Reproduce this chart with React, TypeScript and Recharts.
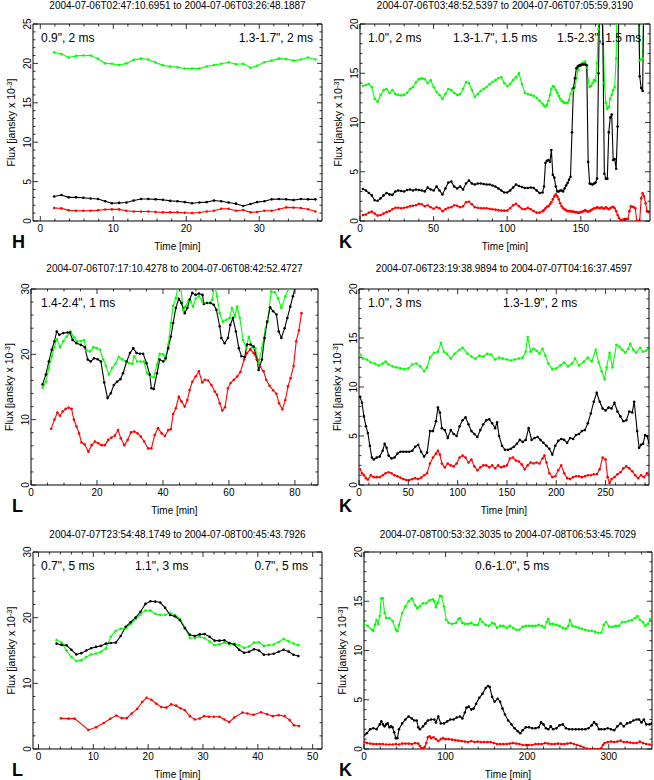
import React from 'react';
import { LineChart, Line, XAxis, YAxis, ReferenceArea } from 'recharts';

const FONT = '"Liberation Sans", Arial, Helvetica, sans-serif';
const GREEN = '#00ff00';
const BLACK = '#000000';
const RED = '#ff0000';

// ---------- Panel 1 (H) ----------
const p1T = [1.9,2.9,3.9,4.9,5.9,6.9,7.9,8.9,9.8,10.8,11.8,12.8,13.8,14.8,15.8,16.8,17.8,18.8,19.8,20.8,21.8,22.8,23.8,24.8,25.8,26.8,27.8,28.8,29.7,30.7,31.7,32.7,33.7,34.7,35.7,36.7,37.7];
const p1Green = [21.4,21.2,20.75,20.95,21.0,21.0,20.6,20.0,19.95,19.8,20.0,20.45,20.6,20.5,20.1,19.75,19.6,19.5,19.35,19.35,19.35,19.6,19.8,19.95,20.15,19.9,19.95,19.45,19.7,20.15,20.35,20.6,20.55,20.35,20.5,20.75,20.5];
const p1Black = [3.1,3.3,3.0,3.0,2.95,2.85,2.8,2.5,2.25,2.3,2.35,2.6,2.8,2.8,2.75,2.7,2.55,2.5,2.4,2.25,2.35,2.4,2.6,2.5,2.35,2.2,1.9,2.15,2.4,2.5,2.75,2.8,2.75,2.65,2.8,2.75,2.75];
const p1Red = [1.65,1.6,1.35,1.3,1.3,1.3,1.35,1.45,1.47,1.47,1.3,1.2,1.2,1.2,1.15,1.1,1.1,1.1,1.05,1.0,1.07,1.2,1.3,1.55,1.55,1.3,1.4,1.1,1.15,1.3,1.3,1.5,1.73,1.7,1.65,1.5,1.2];

// ---------- Panel 2 (K) ----------
const p2T = [2,4,6,8,10,12,14,16,18,20,22,24,26,28,30,32,34,36,38,40,42,44,46,48,50,52,54,56,58,60,62,64,66,68,70,72,74,76,78,80,82,84,86,88,90,92,94,96,98,100,102,104,106,108,110,112,114,116,118,120,122,124,
  125,126,127,128,129,130,131,132,133,134,135,136,137,138,139,140,141,142,143,144,145,146,147,148,149,150,151,152,153,154,155,156,157,158,159,160,161,162,163,164,165,166,167,168,169,170,171,172,173,174,175,176,177,178,179,180,181,182,183,184,185,186,187,188,189,190,191,192,193,194,195,196];
const p2Green = [13.7,13.8,13.9,13.6,12.4,12.1,12.8,13.3,13.4,13.0,13.3,12.9,12.8,12.75,12.8,13.0,13.4,13.6,14.1,14.4,14.5,14.4,14.0,14.3,13.6,13.1,12.8,12.4,12.9,13.4,13.3,13.0,12.8,12.9,13.4,14.1,14.0,13.3,12.6,12.9,13.2,13.4,13.6,13.9,14.1,14.3,14.5,14.6,14.0,13.7,13.9,14.3,14.6,15.0,13.9,13.0,12.9,12.8,12.7,12.5,12.2,11.9,
  11.7,11.6,11.8,12.2,12.8,13.4,13.7,13.6,13.3,13.0,
  12.7,12.4,12.2,12.1,12.0,11.95,12.0,12.3,12.9,13.4,
  13.3,13.6,14.5,15.3,15.7,15.9,16.0,16.1,16.2,15.6,
  14.3,13.6,13.7,14.0,14.3,14.2,16.0,19.5,24,24,
  20.5,14.0,12.0,11.4,11.6,12.4,12.8,13.3,13.6,16.5,
  25,null,null,null,null,null,null,null,null,null,
  null,null,null,null,25,16.3,16.4,16.5,25,null,
  null,null];
const p2Black = [3.25,3.1,2.85,2.6,2.1,2.05,2.3,2.6,2.85,2.7,2.65,3.0,3.1,3.05,3.0,3.15,3.2,3.1,3.2,3.15,3.1,3.0,3.4,3.2,3.1,3.5,3.1,2.7,3.3,3.9,4.0,3.5,3.3,3.5,3.2,3.8,4.1,3.8,3.7,3.8,3.8,3.75,3.7,3.7,3.6,3.5,3.3,3.1,2.9,2.9,3.1,3.4,3.7,3.55,3.45,3.35,3.35,3.4,3.35,3.1,2.85,2.9,
  3.5,5.9,6.1,6.2,6.0,7.2,4.7,4.4,3.5,3.0,
  3.0,3.1,3.1,3.0,3.3,3.6,3.85,4.2,4.5,9.0,
  13.5,14.5,15.5,15.7,15.8,15.8,15.9,15.9,15.9,15.8,
  6.0,3.8,3.75,3.7,3.8,3.9,4.3,15.0,24,24,
  18,4.8,4.3,4.3,9.0,10.5,10.8,6.2,6.3,5.3,
  9.6,25,null,null,null,null,null,null,null,null,
  null,null,null,null,25,14.7,13.5,13.2,25,null,
  null,null];
const p2Red = [0.6,0.65,0.85,0.95,0.75,0.55,0.6,0.75,0.9,1.0,1.2,1.35,1.35,1.3,1.35,1.4,1.5,1.55,1.6,1.75,1.7,1.5,1.6,1.4,1.25,1.4,1.3,1.0,1.2,1.35,1.4,1.6,1.55,1.4,1.5,1.9,1.95,1.7,1.4,1.35,1.3,1.3,1.3,1.25,1.2,1.15,1.1,1.05,1.05,1.05,1.3,1.6,1.75,1.5,1.25,1.2,1.35,1.2,1.0,0.85,0.85,1.0,
  1.1,1.3,1.45,1.5,1.7,1.9,2.2,2.5,2.7,2.5,
  2.2,1.8,1.5,1.3,1.2,1.1,1.0,1.0,1.0,0.95,
  0.95,0.9,0.9,0.85,0.85,0.9,0.95,1.0,1.1,1.0,
  0.95,1.0,1.1,1.2,1.3,1.3,1.4,1.35,1.3,1.4,
  1.3,1.25,1.4,1.3,1.2,1.3,1.4,1.45,1.3,1.0,
  0.6,0.3,0.1,0.1,0.15,0.2,0.2,0.2,1.0,1.5,
  1.45,1.4,1.3,0.0,0.0,0.0,2.3,2.8,2.5,1.8,
  1.0,0.9];

// ---------- Panel 3 (L) ----------
const p3BlackT = [3.5,4.5,5.4,6.3,7.1,7.8,8.6,9.8,11.1,11.8,12.6,13.8,15.1,16.3,17.2,18.1,19.1,20.2,21.2,22.2,23.2,24.2,25.1,26.1,27.1,27.9,29.0,30.0,31.0,32.0,33.0,34.0,35.0,36.0,36.5,37.2,38.2,39.0,40.1,40.8,41.6,42.4,43.1,43.9,44.8,45.6,46.6,47.4,48.1,48.9,49.9,50.9,52.0,52.4,53.4,54.4,55.4,56.2,57.2,57.7,58.7,59.7,60.4,61.2,62.1,63.0,63.8,64.8,65.5,66.5,67.5,68.5,69.0,70.0,70.8,71.6,72.5,73.4,74.4,75.1,75.9,76.9,77.7,78.6,79.4,80.1];
const p3Black = [15.4,16.9,18.9,20.7,22.0,23.5,23.0,23.25,23.35,23.35,22.2,21.7,21.45,21.1,19.2,18.9,19.4,19.25,18.9,15.7,13.3,14.05,15.3,15.8,16.2,17.1,18.9,20.2,20.95,20.2,20.1,20.1,18.65,16.9,14.8,14.7,17.1,19.2,18.9,19.4,20.95,22.7,24.8,27.1,28.5,27.85,26.3,27.1,28.4,29.4,29.1,29.3,29.1,27.7,27.85,27.85,27.6,26.8,24.3,22.5,21.7,22.5,24.5,25.55,23.5,20.95,19.7,19.6,21.5,21.5,21.2,19.2,17.6,19.2,22.5,25.0,27.2,26.6,26.1,23.5,22.5,24.0,25.55,27.3,28.9,30.3];
const p3GreenT = [3.5,4.5,5.4,6.3,7.1,7.8,8.8,9.8,10.8,12.0,13.0,14.0,15.1,16.1,16.8,17.9,18.9,19.9,20.9,21.9,22.7,23.6,24.6,25.6,26.6,27.7,28.8,29.8,30.7,31.3,32.2,33.2,34.2,35.2,36.2,37.2,38.2,39.0,40.1,40.8,41.6,42.4,43.1,43.9,44.6,45.3,46.1,46.8,47.6,48.4,49.1,49.9,50.9,51.9,52.9,54.0,54.9,55.7,56.4,57.2,58.2,59.2,60.2,60.9,61.8,62.5,63.3,64.3,65.3,66.0,67.0,68.0,69.0,70.0,71.0,71.8,72.8,73.9,74.9,75.9,77.1,77.9,78.4];
const p3Green = [14.9,15.8,17.9,19.7,21.1,22.3,21.1,22.0,22.7,23.5,22.6,22.0,22.0,22.2,20.6,20.45,21.1,20.95,20.7,19.2,18.25,16.9,17.9,18.55,19.6,19.2,18.9,18.65,18.55,19.7,18.9,18.9,18.9,17.1,16.6,16.5,18.4,20.1,20.0,19.2,21.5,24.8,27.4,28.6,30.5,30.8,26.8,27.3,28.1,28.1,27.3,28.5,28.9,28.1,27.85,27.85,28.35,30.5,28.9,26.3,25.0,25.3,25.55,27.1,25.8,27.3,25.55,22.2,20.95,22.7,21.1,20.95,18.65,20.95,23.8,25.3,29.6,29.5,28.6,27.1,28.9,29.9,30.6];
const p3RedT = [6.1,7.1,8.0,8.8,9.6,10.5,11.4,12.3,13.0,13.8,14.6,15.3,16.3,17.4,18.4,19.4,20.4,21.4,22.4,23.4,24.4,25.4,26.4,27.2,28.3,29.3,30.3,31.3,32.3,33.3,34.3,35.5,36.5,37.5,38.5,39.6,40.6,41.6,42.4,43.1,43.9,44.8,45.6,46.6,47.4,48.1,48.9,49.9,50.9,51.9,52.7,53.7,54.7,55.7,56.4,57.2,58.0,58.8,59.7,60.5,61.5,62.5,63.5,64.6,65.5,66.5,67.5,68.5,69.5,70.5,71.3,72.3,73.4,74.4,75.2,76.2,77.1,77.9,78.7,79.6,80.4,81.2,82.0];
const p3Red = [8.6,10.0,11.1,10.6,11.25,11.65,11.85,11.65,10.0,8.95,7.9,6.5,6.2,5.1,6.1,6.65,6.4,6.1,6.1,6.9,7.25,7.55,8.4,7.15,6.1,6.9,8.05,8.2,7.9,7.4,6.65,5.6,5.6,7.65,8.7,7.9,7.5,8.4,8.55,10.85,11.75,13.5,12.8,12.0,13.0,14.55,15.8,16.6,17.4,15.7,16.1,16.0,15.3,14.3,13.8,12.5,11.4,11.9,14.8,15.6,16.1,16.6,17.3,19.2,20.2,20.8,20.2,19.2,18.1,17.4,16.1,15.2,14.5,13.95,12.5,11.6,13.0,15.1,16.35,18.2,22.0,23.65,26.3];

// ---------- Panel 4 (K) ----------
const p4GreenT = [1,4,8,12,16,20,24,27,30,34,38,42,46,50,54,58,62,66,69,72,76,80,83,86,89,93,97,102,105,110,114,118,122,126,130,134,138,142,146,150,154,158,162,166,169,171,174,177,180,183,186,189,192,196,200,204,208,212,216,219,223,228,232,236,240,243,246,249,251,254,257,261,264,267,270,273,275,278,281,285,288,291,295];
const p4Green = [13.3,12.9,12.8,12.5,12.4,12.2,12.4,12.6,12.3,12.1,12.0,11.9,11.8,11.9,12.3,12.4,12.1,11.6,12.0,13.0,13.5,13.6,14.5,13.6,13.4,12.9,13.4,13.8,14.0,13.4,13.1,12.9,13.2,13.1,13.4,13.3,12.8,13.0,12.9,12.8,12.7,12.8,12.9,13.0,13.6,15.1,13.6,13.9,13.7,13.4,13.9,13.2,12.4,11.8,11.9,12.2,12.5,12.1,12.4,12.9,12.2,12.6,13.0,12.6,13.8,12.5,11.6,10.8,12.0,13.5,12.0,14.3,14.1,13.8,13.5,13.9,14.4,13.8,13.5,14.0,13.6,13.7,14.1];
const p4BlackT = [1,3,5,7,9,11,13,15,18,21,24,26,28,30,33,36,39,42,45,48,51,54,57,60,63,66,69,72,75,78,80,82,84,87,90,93,96,99,102,105,108,111,114,117,120,123,126,129,132,135,138,140,142,145,148,151,154,157,160,163,166,169,172,175,178,181,184,187,190,193,196,199,202,205,208,211,214,217,220,223,226,229,232,235,238,241,244,247,250,253,256,259,262,265,268,271,274,277,279,282,284,286,288,290,292,294,296];
const p4Black = [9.0,8.4,7.0,6.0,5.3,4.0,2.8,2.6,2.8,2.9,3.5,4.2,3.8,3.0,2.7,2.8,3.2,3.4,3.4,3.4,3.4,3.5,3.9,4.1,3.4,2.9,3.3,5.5,5.5,6.5,7.9,7.4,5.8,5.6,4.8,5.6,5.2,5.0,6.0,6.6,6.9,6.2,5.5,5.2,4.9,5.6,6.2,6.6,6.7,6.3,5.8,6.4,5.0,4.0,3.6,3.6,3.7,3.9,4.2,4.6,4.4,4.6,5.8,4.6,4.8,4.9,4.6,4.3,4.0,3.7,3.1,4.0,4.5,4.7,4.6,4.3,4.8,4.7,5.1,5.2,5.5,5.6,6.3,7.3,8.5,9.4,8.5,7.8,7.6,7.9,7.8,8.4,7.5,7.0,6.5,6.6,7.5,7.4,8.5,5.5,3.8,4.1,4.2,5.1,5.0,4.3,4.1];
const p4RedT = [1,3,5,7,9,12,15,18,21,24,27,30,33,36,39,42,45,48,51,54,57,60,63,66,69,72,75,78,80,82,84,87,90,93,96,99,102,105,108,111,114,117,120,123,126,129,132,135,138,141,144,147,150,153,156,159,162,165,168,171,174,177,180,183,186,188,190,193,196,199,202,205,208,211,214,217,220,223,226,229,232,235,238,241,244,247,250,252,254,256,259,262,265,268,271,274,277,280,283,286,289,292,295];
const p4Red = [1.6,1.2,1.0,0.7,0.55,1.0,0.8,0.8,0.8,1.0,1.2,1.3,1.2,1.0,0.9,0.75,0.6,0.5,0.5,0.6,0.7,0.6,0.75,1.0,1.2,2.2,2.8,3.2,3.5,3.1,2.2,1.8,2.2,2.0,1.9,2.2,2.8,3.0,2.8,2.3,2.6,1.9,1.5,1.8,2.0,2.0,1.8,2.0,1.7,2.0,1.8,1.9,2.0,2.7,2.8,2.5,2.4,2.1,1.6,2.0,2.3,2.2,2.3,2.2,2.7,3.0,2.3,1.2,0.8,0.9,1.5,2.0,1.2,0.7,0.6,0.8,0.9,0.9,0.8,0.9,1.0,1.0,1.1,1.1,1.6,2.8,2.6,0.8,0.2,0.6,0.8,1.1,1.3,1.7,1.9,1.7,1.4,1.0,0.7,1.0,0.8,1.2,1.1];

// ---------- Panel 5 (L) ----------
const p5T = [3.3,4.2,5.1,6.0,6.9,7.8,8.7,9.6,10.5,11.4,12.3,13.2,14.1,15.0,15.9,16.8,17.7,18.6,19.5,20.4,21.3,22.2,23.1,24.0,24.9,25.8,26.7,27.6,28.5,29.4,30.3,31.2,32.1,33.0,33.9,34.8,35.7,36.6,37.5,38.4,39.3,40.2,41.1,42.0,42.9,43.8,44.7,45.6,46.5,47.4];
const p5Black = [16.05,15.85,15.8,15.1,14.4,14.6,15.0,15.35,15.55,15.7,16.05,16.15,16.2,17.2,18.6,19.3,20.0,20.9,22.1,22.5,22.45,22.3,21.5,20.4,20.2,19.6,18.4,17.4,17.2,17.45,17.5,17.1,16.5,16.5,16.55,16.15,15.9,15.1,14.65,14.8,15.2,15.0,14.35,14.4,14.5,14.8,15.1,14.85,14.35,14.15];
const p5Green = [16.6,16.2,15.0,14.0,13.4,13.5,14.0,14.4,14.55,14.8,15.3,17.1,18.0,18.3,18.4,19.0,19.8,20.5,21.1,21.1,20.6,20.4,20.45,20.7,20.4,19.8,18.5,16.9,16.9,17.1,16.9,16.35,15.8,15.95,16.2,15.95,16.05,15.8,15.4,15.6,16.2,16.25,15.7,15.8,15.9,16.3,16.75,16.4,16.05,15.8];
const p5RedT = [4.1,5.5,6.6,9.1,10.5,11.9,13.1,14.2,15.2,16.1,17.0,18.0,18.9,19.7,20.6,21.5,22.4,23.3,24.2,25.1,25.9,26.7,27.6,28.5,29.4,30.2,31.1,32.0,33.0,33.9,34.8,35.7,37.2,38.1,39.2,40.6,41.7,42.7,43.8,44.9,45.8,46.6,47.5];
const p5Red = [4.67,4.62,4.62,2.9,3.3,3.96,4.6,5.1,4.7,4.7,5.4,6.1,7.15,7.8,7.5,6.9,6.4,6.3,6.8,6.6,6.2,5.9,5.0,4.5,4.65,5.0,4.9,4.9,4.9,4.5,4.1,4.8,5.55,5.4,5.2,5.6,5.3,5.0,5.15,5.0,4.4,3.6,3.5];

// ---------- Panel 6 (K) ----------
const p6GreenT = [0,4.5,9.4,11.4,13.4,15.3,17.3,19.3,21.2,23.2,25.2,27.2,31.1,35.0,39.0,40.9,42.9,46.8,50.8,54.7,58.6,62.6,65.5,68.5,72.4,76.4,80.3,84.2,86.2,88.2,90.1,93.1,95.0,98.0,100.9,103.9,107.8,112.8,115.7,117.7,120.6,123.6,127.5,131.5,135.4,139.3,142.3,145.2,149.2,153.1,157.0,160.0,163.0,166.9,170.8,174.8,178.7,182.6,186.6,190.5,194.4,198.4,202.3,206.2,210.2,214.1,218.0,221.0,224.0,225.9,227.9,231.8,235.8,239.7,243.6,247.6,250.5,252.5,255.4,259.4,263.3,267.2,271.2,275.1,279.1,283.0,286.9,290.9,293.8,296.8,300.7,304.6,308.6,312.5,316.4,320.4,324.3,328.3,332.2,335.1,338.1,342.0,345.0,347.9,350.9,352.9];
const p6Green = [12.7,12.5,12.1,12.0,12.6,13.1,12.7,13.5,15.3,15.3,13.8,13.3,13.3,13.0,12.1,11.95,12.6,13.8,14.5,15.0,15.3,14.6,14.3,14.5,14.8,14.8,15.1,15.2,15.0,14.4,14.8,15.55,15.5,14.5,13.1,12.8,12.7,12.8,13.2,13.3,12.8,12.7,12.7,12.8,12.6,12.6,13.2,12.9,12.6,12.5,12.8,12.7,12.3,12.5,12.5,12.3,12.5,12.3,12.1,12.1,12.4,12.5,12.5,12.5,12.5,12.6,12.5,12.3,12.9,13.2,12.7,12.7,12.6,12.5,12.3,12.2,12.5,13.1,12.5,12.4,12.3,12.2,12.1,12.0,12.0,11.9,11.8,11.8,12.6,12.9,12.4,12.4,12.5,12.5,12.9,12.9,13.0,13.1,13.3,13.5,13.1,12.9,12.5,12.7,13.2,13.1];
const p6BlackT = [0,3.5,7.5,11.4,15.3,19.3,21.2,23.2,25.2,27.2,29.1,31.1,33.1,35.0,37.0,39.0,40.9,42.9,46.8,50.8,54.7,58.6,61.6,64.5,66.5,68.5,72.4,75.4,78.3,82.3,86.2,88.2,91.1,94.1,98.0,101.9,105.9,109.8,113.7,117.7,120.6,123.6,125.6,128.5,131.5,134.4,137.4,141.3,145.2,149.2,152.1,154.1,157.0,160.0,163.9,166.9,169.8,172.8,176.7,180.7,184.6,188.5,191.5,194.4,198.4,202.3,206.2,210.2,214.1,217.1,220.0,223.0,225.9,228.9,231.8,235.8,239.7,243.6,247.6,251.5,255.4,259.4,263.3,267.2,271.2,275.1,279.1,282.0,285.0,287.9,290.9,294.8,298.7,302.7,306.6,310.5,314.5,318.4,322.4,326.3,330.2,334.2,337.1,340.1,343.0,346.0,349.9,352.9];
const p6Black = [1.4,1.6,2.0,2.1,2.0,2.5,2.8,2.5,2.3,2.5,2.6,2.2,2.3,2.2,1.7,1.1,1.1,2.0,2.6,3.0,3.3,3.1,2.9,2.9,2.2,2.0,2.3,2.6,2.9,3.0,3.0,2.7,3.3,2.6,2.6,2.8,3.0,3.0,3.2,3.3,3.1,3.7,4.2,4.3,4.0,4.1,4.6,5.2,5.6,6.2,6.4,6.3,5.3,4.8,5.1,4.8,4.1,3.5,2.9,2.5,2.1,1.8,1.6,1.9,2.2,2.2,2.1,2.1,2.2,2.7,2.5,2.1,2.0,2.3,2.0,2.1,2.4,2.5,2.1,2.0,2.0,2.0,2.0,2.0,2.0,2.1,2.4,2.7,2.5,2.0,2.0,2.0,2.1,2.0,1.9,2.3,2.6,2.3,2.6,2.7,2.9,3.0,3.0,2.7,3.0,2.5,2.5,2.6];
const p6RedT = [0,3.5,7.5,11.4,15.3,19.3,23.2,27.2,31.1,35.0,39.0,42.9,46.8,50.8,54.7,58.6,62.6,66.5,68.5,70.4,72.4,74.4,76.4,78.3,80.3,82.3,85.2,88.2,91.1,94.1,97.0,100.0,103.9,107.8,111.8,115.7,119.6,123.6,127.5,131.5,135.4,139.3,143.3,147.2,151.1,155.1,159.0,163.0,166.9,170.8,174.8,178.7,182.6,186.6,190.5,194.4,198.4,202.3,206.2,210.2,214.1,218.0,222.0,225.9,229.9,233.8,237.7,241.7,245.6,249.5,253.5,257.4,261.3,265.3,269.2,273.2,277.1,281.0,285.0,288.9,290.9,292.8,294.8,298.7,302.7,306.6,310.5,314.5,318.4,322.4,326.3,330.2,334.2,338.1,342.0,346.0,349.9,352.9];
const p6Red = [0.75,0.6,0.55,0.5,0.5,0.5,0.5,0.45,0.45,0.45,0.5,0.45,0.55,0.55,0.55,0.5,0.6,0.55,0.3,0.1,0.05,0.2,0.6,1.2,1.3,1.1,1.2,1.0,0.8,1.0,1.1,1.0,1.0,0.95,0.9,0.85,0.8,0.75,0.7,0.8,0.7,0.75,0.7,0.7,0.7,0.7,0.6,0.5,0.5,0.5,0.5,0.55,0.6,0.55,0.5,0.4,0.4,0.4,0.4,0.5,0.5,0.5,0.6,0.55,0.5,0.5,0.55,0.5,0.5,0.55,0.6,0.5,0.4,0.3,0.15,0.05,0.0,0.0,0.0,0.0,0.1,0.4,0.6,0.7,0.75,0.7,0.75,0.85,0.7,0.7,0.65,0.6,0.6,0.75,0.6,0.5,0.45,0.4];

// ---------- Titles / labels ----------
const titles = [
  '2004-07-06T02:47:10.6951 to 2004-07-06T03:26:48.1887',
  '2004-07-06T03:48:52.5397 to 2004-07-06T07:05:59.3190',
  '2004-07-06T07:17:10.4278 to 2004-07-06T08:42:52.4727',
  '2004-07-06T23:19:38.9894 to 2004-07-07T04:16:37.4597',
  '2004-07-07T23:54:48.1749 to 2004-07-08T00:45:43.7926',
  '2004-07-08T00:53:32.3035 to 2004-07-08T06:53:45.7029',
];
const bands = ['H', 'K', 'L', 'K', 'L', 'K'];
const notes = [
  ['0.9", 2 ms', '1.3-1.7", 2 ms'],
  ['1.0", 2 ms', '1.3-1.7", 1.5 ms', '1.5-2.3", 1.5 ms'],
  ['1.4-2.4", 1 ms'],
  ['1.0", 3 ms', '1.3-1.9", 2 ms'],
  ['0.7", 5 ms', '1.1", 3 ms', '0.7", 5 ms'],
  ['0.6-1.0", 5 ms'],
];
const xMajors = [[0, 10, 20, 30], [0, 50, 100, 150], [0, 20, 40, 60, 80], [0, 50, 100, 150, 200, 250], [0, 10, 20, 30, 40, 50], [0, 100, 200, 300]];
const yMajors = [[0, 5, 10, 15, 20, 25], [0, 5, 10, 15, 20], [0, 10, 20, 30], [0, 5, 10, 15, 20], [0, 10, 20, 30], [0, 5, 10, 15, 20]];

type S = { t: number[]; v: (number | null)[]; color: string };
type P = {
  cx: number; cy: number; fx0: number; fx1: number; fy0: number; fy1: number;
  xDomain: [number, number]; xMinor: number; yMax: number; yMinor: number;
  series: S[]; noteX: { x: number; anchor: 'start' | 'end' }[]; noteY: number; titleY: number;
};

const panels: P[] = [
  { cx: 0, cy: 0, fx0: 33, fx1: 322, fy0: 24, fy1: 221, xDomain: [-1, 38.6], xMinor: 2, yMax: 25, yMinor: 1,
    series: [{ t: p1T, v: p1Green, color: GREEN }, { t: p1T, v: p1Black, color: BLACK }, { t: p1T, v: p1Red, color: RED }],
    noteX: [{ x: 41, anchor: 'start' }, { x: 313, anchor: 'end' }], noteY: 42, titleY: 9 },
  { cx: 327, cy: 0, fx0: 360, fx1: 650, fy0: 24, fy1: 221, xDomain: [0, 197], xMinor: 10, yMax: 20, yMinor: 1,
    series: [{ t: p2T, v: p2Green, color: GREEN }, { t: p2T, v: p2Black, color: BLACK }, { t: p2T, v: p2Red, color: RED }],
    noteX: [{ x: 368, anchor: 'start' }, { x: 453, anchor: 'start' }, { x: 557, anchor: 'start' }], noteY: 42, titleY: 9 },
  { cx: 0, cy: 260, fx0: 31, fx1: 318, fy0: 289, fy1: 485, xDomain: [0, 87], xMinor: 5, yMax: 30, yMinor: 2,
    series: [{ t: p3GreenT, v: p3Green, color: GREEN }, { t: p3BlackT, v: p3Black, color: BLACK }, { t: p3RedT, v: p3Red, color: RED }],
    noteX: [{ x: 41, anchor: 'start' }], noteY: 307, titleY: 272 },
  { cx: 327, cy: 260, fx0: 359, fx1: 649, fy0: 289, fy1: 485, xDomain: [0, 294], xMinor: 10, yMax: 20, yMinor: 1,
    series: [{ t: p4GreenT, v: p4Green, color: GREEN }, { t: p4BlackT, v: p4Black, color: BLACK }, { t: p4RedT, v: p4Red, color: RED }],
    noteX: [{ x: 368, anchor: 'start' }, { x: 503, anchor: 'start' }], noteY: 307, titleY: 272 },
  { cx: 0, cy: 520, fx0: 33, fx1: 322, fy0: 552, fy1: 749, xDomain: [-1, 51.7], xMinor: 2, yMax: 30, yMinor: 2,
    series: [{ t: p5T, v: p5Green, color: GREEN }, { t: p5T, v: p5Black, color: BLACK }, { t: p5RedT, v: p5Red, color: RED }],
    noteX: [{ x: 41, anchor: 'start' }, { x: 135, anchor: 'start' }, { x: 308, anchor: 'end' }], noteY: 570, titleY: 538 },
  { cx: 327, cy: 520, fx0: 364, fx1: 652, fy0: 552, fy1: 749, xDomain: [0, 353], xMinor: 20, yMax: 20, yMinor: 1,
    series: [{ t: p6GreenT, v: p6Green, color: GREEN }, { t: p6BlackT, v: p6Black, color: BLACK }, { t: p6RedT, v: p6Red, color: RED }],
    noteX: [{ x: 475, anchor: 'start' }], noteY: 570, titleY: 538 },
];

function tickList(d0: number, d1: number, step: number): number[] {
  const out: number[] = [];
  const k0 = Math.ceil(d0 / step - 1e-9);
  const k1 = Math.floor(d1 / step + 1e-9);
  for (let k = k0; k <= k1; k++) out.push(+(k * step).toFixed(6));
  return out;
}
const isMaj = (arr: number[], v: number) => arr.some((m) => Math.abs(m - v) < 1e-6);
const toRows = (t: number[], v: (number | null)[]) => t.map((x, i) => ({ t: x, v: v[i] }));

function Panel({ p, idx }: { p: P; idx: number }) {
  const W = 327, H = 260;
  const AX = 1; // thin axis band so the axis components render
  const margin = { left: p.fx0 - p.cx - AX, right: p.cx + W - p.fx1, top: p.fy0 - p.cy, bottom: p.cy + H - p.fy1 - AX };
  const pw = p.fx1 - p.fx0;
  const ph = p.fy1 - p.fy0;
  const xm = xMajors[idx];
  const ym = yMajors[idx];
  const xt = tickList(p.xDomain[0], p.xDomain[1], p.xMinor);
  const yt = tickList(0, p.yMax, p.yMinor);

  const bottomTick = (props: any) => {
    const { x, y, payload } = props;
    const maj = isMaj(xm, payload.value);
    const L = maj ? 5 : 2.5;
    return (
      <g>
        <line x1={x} x2={x} y1={y} y2={y - L} stroke="#000" strokeWidth={0.8} />
        <line x1={x} x2={x} y1={y - ph} y2={y - ph + L} stroke="#000" strokeWidth={0.8} />
        {maj && (
          <text x={x} y={y + 11} textAnchor="middle" fontSize={10} fontFamily={FONT} fill="#000">{payload.value}</text>
        )}
      </g>
    );
  };
  const leftTick = (props: any) => {
    const { x, y, payload } = props;
    const maj = isMaj(ym, payload.value);
    const L = maj ? 5 : 2.5;
    const ax = x - 2;
    return (
      <g>
        <line x1={x} x2={x + L} y1={y} y2={y} stroke="#000" strokeWidth={0.8} />
        <line x1={x + pw} x2={x + pw - L} y1={y} y2={y} stroke="#000" strokeWidth={0.8} />
        {maj && (
          <text x={ax} y={y} transform={`rotate(-90 ${ax} ${y})`} textAnchor="middle" fontSize={10} fontFamily={FONT} fill="#000">{payload.value}</text>
        )}
      </g>
    );
  };

  return (
    <div style={{ position: 'absolute', left: p.cx, top: p.cy, width: W, height: H }}>
      <LineChart width={W} height={H} margin={margin}>
        <XAxis type="number" dataKey="t" domain={p.xDomain} ticks={xt} interval={0} allowDataOverflow
          height={AX} tickSize={0} tickMargin={0} axisLine={false} tickLine={false} tick={bottomTick} />
        <YAxis type="number" domain={[0, p.yMax]} ticks={yt} interval={0} allowDataOverflow
          width={AX} tickSize={0} tickMargin={0} axisLine={false} tickLine={false} tick={leftTick} />
        <ReferenceArea x1={p.xDomain[0]} x2={p.xDomain[1]} y1={0} y2={p.yMax} fill="none" fillOpacity={0} stroke="#000" strokeWidth={1} strokeOpacity={1} />
        {p.series.map((s, i) => (
          <Line key={i} data={toRows(s.t, s.v)} dataKey="v" type="linear" stroke={s.color} strokeWidth={1.1}
            dot={{ r: 1.3, fill: s.color, stroke: 'none' }} activeDot={false} connectNulls isAnimationActive={false} />
        ))}
      </LineChart>
    </div>
  );
}

function Overlay() {
  return (
    <svg width={654} height={780} style={{ position: 'absolute', left: 0, top: 0, pointerEvents: 'none' }}>
      {panels.map((p, i) => {
        const mx = (p.fx0 + p.fx1) / 2;
        const my = (p.fy0 + p.fy1) / 2;
        const ax = p.fx0 - 18;
        return (
          <g key={i} fontFamily={FONT} fill="#000">
            <text x={mx} y={p.titleY} textAnchor="middle" fontSize={10}>{titles[i]}</text>
            {notes[i].map((n, j) => (
              <text key={j} x={p.noteX[j].x} y={p.noteY} textAnchor={p.noteX[j].anchor} fontSize={12}>{n}</text>
            ))}
            <text x={p.cx + 12} y={p.fy1 + 27} fontSize={18} fontWeight="bold">{bands[i]}</text>
            <text x={mx} y={p.fy1 + 29} textAnchor="middle" fontSize={10}>Time [min]</text>
            <text x={ax} y={my} transform={`rotate(-90 ${ax} ${my})`} textAnchor="middle" fontSize={10.5}>
              Flux [jansky x 10<tspan dy={-3.5} fontSize={7.5}>-3</tspan><tspan dy={3.5}>]</tspan>
            </text>
          </g>
        );
      })}
    </svg>
  );
}

export default function App() {
  return (
    <div style={{ position: 'absolute', left: 0, top: 0, width: 654, height: 780, background: '#fff', overflow: 'hidden' }}>
      {panels.map((p, i) => (
        <Panel key={i} p={p} idx={i} />
      ))}
      <Overlay />
    </div>
  );
}
